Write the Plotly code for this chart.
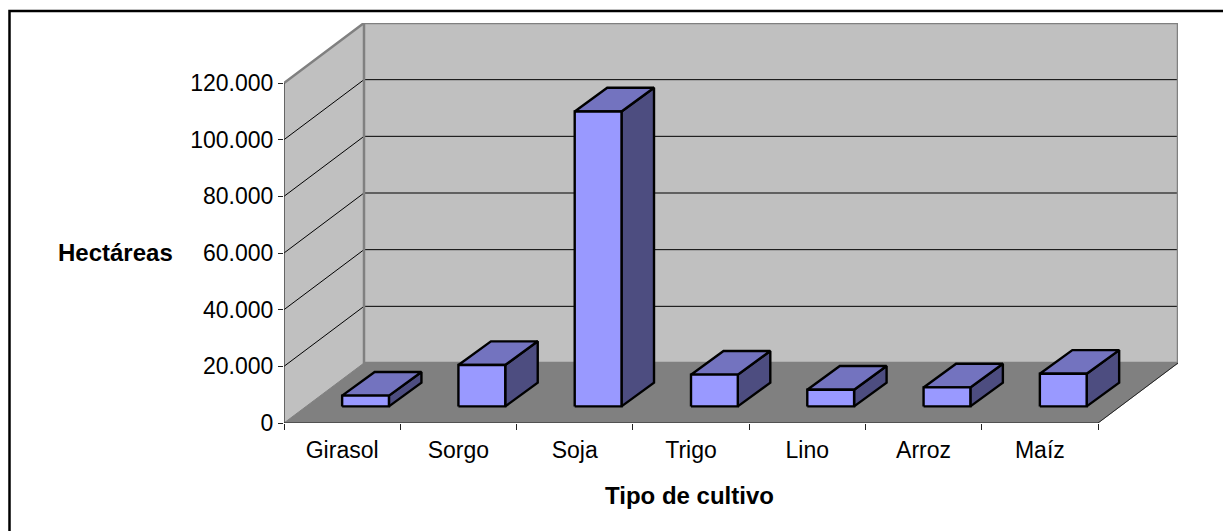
import plotly.graph_objects as go

# ---- data ----
categories = ["Girasol", "Sorgo", "Soja", "Trigo", "Lino", "Arroz", "Maíz"]
hectareas = [3800, 14600, 104100, 11200, 5900, 6700, 11500]
y_ticks = [0, 20000, 40000, 60000, 80000, 100000, 120000]
y_labels = ["0", "20.000", "40.000", "60.000", "80.000", "100.000", "120.000"]
y_title = "Hectáreas"
x_title = "Tipo de cultivo"

# ---- oblique projection settings (in axis units) ----
W, H = 1223, 531
L, R, T, B = 284, 1178, 23, 423          # plot-area pixels
PX_X = (1098 - 284) / 7                  # pixels per category
PX_Y = (423 - 83) / 120000               # pixels per hectare
N = len(categories)
WALL_DX = (R - 1098) / PX_X
WALL_DY = 60 / PX_Y
BAR_W = 46.8 / PX_X
BAR_DX = 32.5 / PX_X
BAR_DY = 23.7 / PX_Y
BAR_OX = 23.4 / PX_X
BAR_OY = 16.6 / PX_Y
Y_MAX = y_ticks[-1]

WALL = "#C0C0C0"
FLOOR = "#808080"
EDGE = "#808080"
FRONT = "#9999FF"
TOP = "#7373BF"
SIDE = "#4D4D80"
FONT = "Liberation Sans"

fig = go.Figure()


def poly(xs, ys, fill=None, color="#000000", width=1):
    fig.add_trace(go.Scatter(
        x=xs, y=ys, mode="lines", fill="toself" if fill else None,
        fillcolor=fill, line=dict(color=color, width=width),
        hoverinfo="skip", showlegend=False))


# walls and floor
poly([WALL_DX, N + WALL_DX, N + WALL_DX, WALL_DX, WALL_DX],
     [WALL_DY, WALL_DY, Y_MAX + WALL_DY, Y_MAX + WALL_DY, WALL_DY], WALL, WALL, 1)
poly([0, WALL_DX, WALL_DX, 0, 0],
     [0, WALL_DY, Y_MAX + WALL_DY, Y_MAX, 0], WALL, WALL, 1)
poly([0, N, N + WALL_DX, WALL_DX, 0], [0, 0, WALL_DY, WALL_DY, 0], FLOOR, FLOOR, 1)

# gridlines
for t in y_ticks[1:-1]:
    poly([0, WALL_DX, N + WALL_DX], [t, t + WALL_DY, t + WALL_DY], None, "#000000", 1)

# wall edges
poly([0, WALL_DX, N + WALL_DX, N + WALL_DX],
     [Y_MAX, Y_MAX + WALL_DY, Y_MAX + WALL_DY, WALL_DY], None, EDGE, 2.5)
poly([WALL_DX, WALL_DX, N + WALL_DX], [Y_MAX + WALL_DY, WALL_DY, WALL_DY], None, EDGE, 2.5)

# axis lines
poly([0, 0], [Y_MAX, 0], None, "#333333", 1.3)
poly([0, N, N + WALL_DX], [0, 0, WALL_DY], None, "#222222", 1)

# bars
for i, v in enumerate(hectareas):
    x0 = i + 0.5 + BAR_OX - BAR_W / 2
    x1 = x0 + BAR_W
    y0 = BAR_OY
    y1 = y0 + v
    poly([x1, x1 + BAR_DX, x1 + BAR_DX, x1, x1],
         [y0, y0 + BAR_DY, y1 + BAR_DY, y1, y0], SIDE, "#000000", 2.4)
    poly([x0, x1, x1 + BAR_DX, x0 + BAR_DX, x0],
         [y1, y1, y1 + BAR_DY, y1 + BAR_DY, y1], TOP, "#000000", 2.4)
    poly([x0, x1, x1, x0, x0], [y0, y0, y1, y1, y0], FRONT, "#000000", 2.4)

fig.update_layout(
    width=W, height=H,
    margin=dict(l=L, r=W - R, t=T, b=H - B, pad=0),
    paper_bgcolor="#FFFFFF", plot_bgcolor="#FFFFFF",
    showlegend=False, hovermode=False,
    font=dict(family=FONT, size=23, color="#000000"),
    xaxis=dict(
        range=[0, N + WALL_DX], showgrid=False, zeroline=False, showline=False,
        tickmode="array", tickvals=[i + 0.5 for i in range(N)], ticktext=categories,
        ticks="", ticklabelstandoff=11,
        minor=dict(tickmode="array", tickvals=list(range(N + 1)), ticks="outside",
                   ticklen=6, tickwidth=1, tickcolor="#222222", showgrid=False),
        tickfont=dict(family=FONT, size=23),
    ),
    yaxis=dict(
        range=[0, (B - T) / PX_Y], showgrid=False, zeroline=False, showline=False,
        tickmode="array", tickvals=y_ticks, ticktext=y_labels,
        ticks="outside", ticklen=5, tickwidth=1, tickcolor="#222222",
        tickfont=dict(family=FONT, size=23),
    ),
    annotations=[
        dict(text=y_title, xref="paper", yref="paper",
             x=(115.5 - L) / (R - L), y=(B - 253) / (B - T),
             xanchor="center", yanchor="middle", showarrow=False,
             font=dict(family=FONT, size=24, color="#000000", weight="bold")),
        dict(text=x_title, xref="paper", yref="paper",
             x=(689 - L) / (R - L), y=(B - 495.7) / (B - T),
             xanchor="center", yanchor="middle", showarrow=False,
             font=dict(family=FONT, size=24, color="#000000", weight="bold")),
    ],
    shapes=[dict(type="path", xref="paper", yref="paper",
                 path="M %.5f,%.5f L %.5f,%.5f L %.5f,%.5f" % (
                     (9.5 - L) / (R - L), (B - H) / (B - T),
                     (9.5 - L) / (R - L), (B - 11) / (B - T),
                     (W - L) / (R - L), (B - 11) / (B - T)),
                 line=dict(color="#000000", width=2.5), layer="below")],
)

fig.write_html("out.html", config=dict(displayModeBar=False),
               post_script="document.body.style.margin='0';document.body.style.overflow='hidden';")
